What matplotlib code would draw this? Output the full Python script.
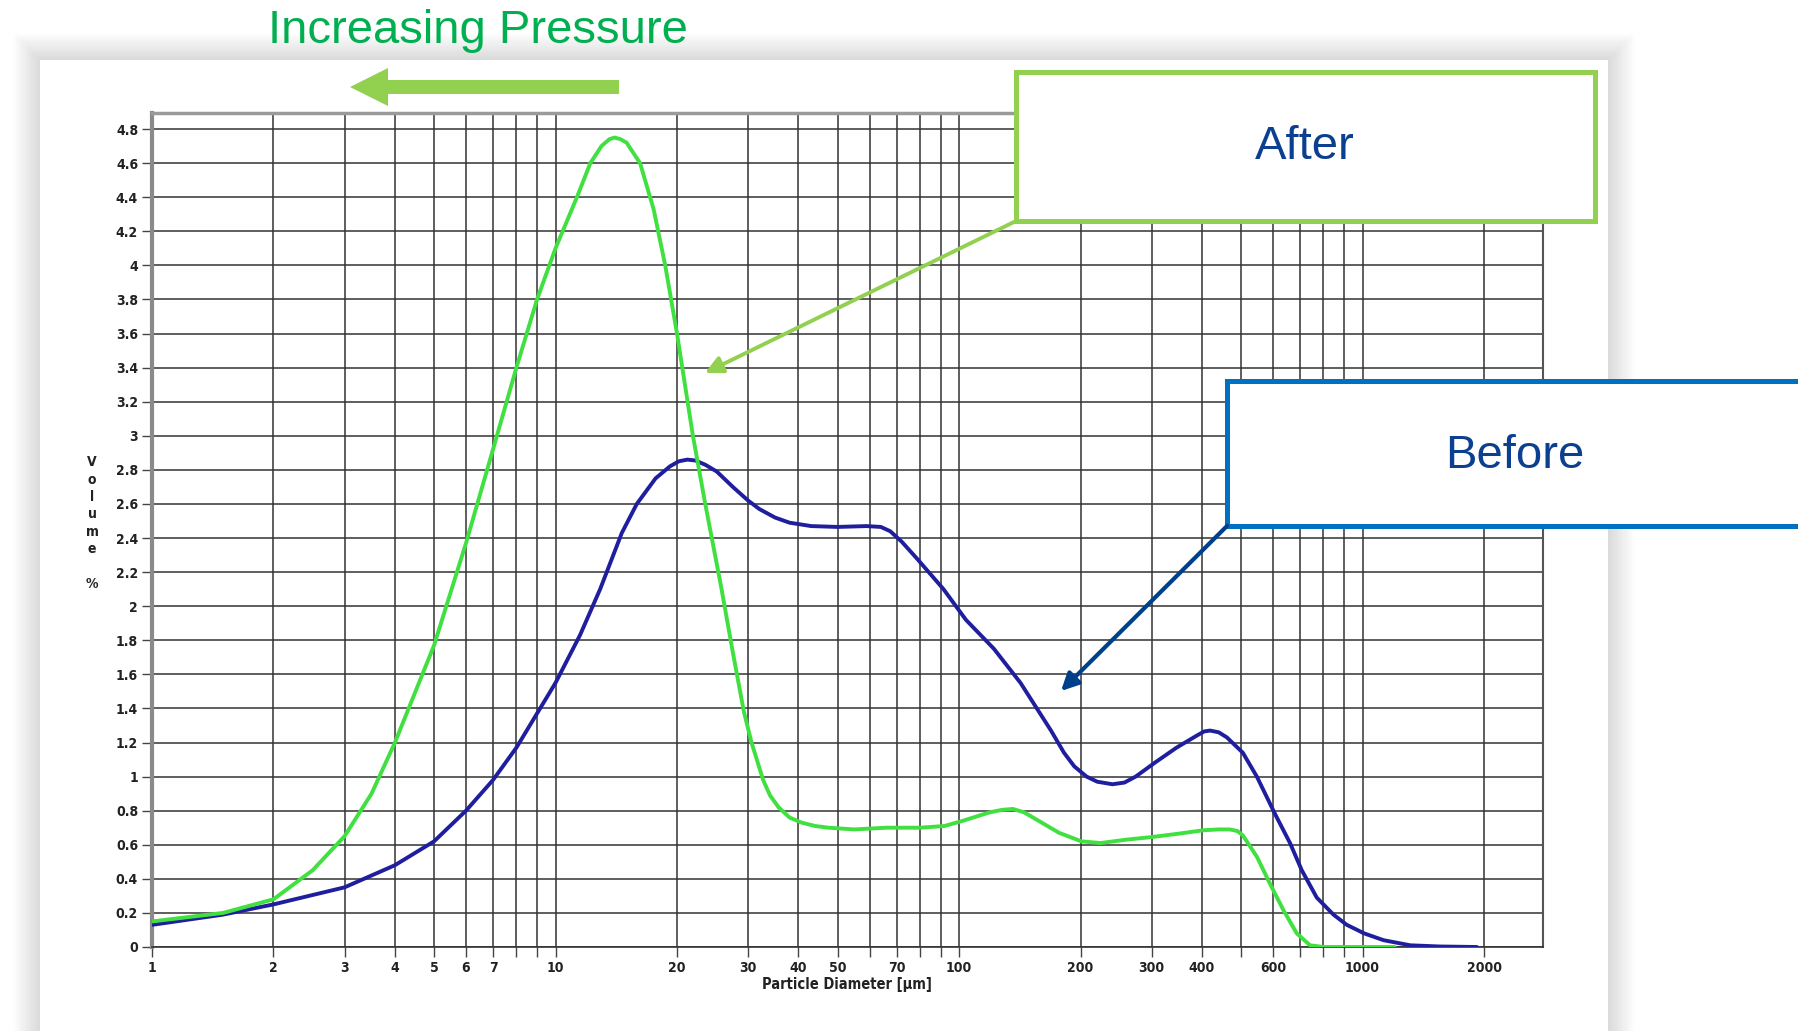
import numpy as np
import matplotlib
matplotlib.use('Agg')
import matplotlib.pyplot as plt
from matplotlib.patches import Rectangle, FancyArrow
from matplotlib.ticker import FixedLocator, FixedFormatter, NullLocator

# particle size distribution (diameter in um, volume %)
x_before = [1, 1.5, 2, 3, 4, 5, 6, 7, 8, 10, 11.5, 12.9, 14.6, 15.9, 17.7, 19.2, 20.2, 21.2, 22.2,
            23.5, 25.1, 27.5, 30, 32, 35, 38, 43, 50, 59, 64, 67.5, 72, 78.6, 91.5, 104, 122,
            142, 169, 182, 193, 207, 220, 240, 257, 274, 305, 346, 388, 405, 419, 440, 461, 505,
            547, 607, 661, 707, 770, 847, 914, 1009, 1127, 1312, 1550, 1920]
y_before = [0.13, 0.19, 0.25, 0.35, 0.48, 0.62, 0.8, 0.98, 1.17, 1.55, 1.83, 2.1, 2.43, 2.6, 2.75,
            2.82, 2.85, 2.86, 2.855, 2.83, 2.79, 2.7, 2.62, 2.57, 2.52, 2.49, 2.47, 2.465, 2.47,
            2.465, 2.44, 2.38, 2.28, 2.10, 1.92, 1.75, 1.55, 1.27, 1.14, 1.06, 1.0, 0.97, 0.955,
            0.965, 1.0, 1.08, 1.17, 1.24, 1.265, 1.27, 1.26, 1.23, 1.14, 1.0, 0.78, 0.61, 0.45,
            0.29, 0.19, 0.13, 0.08, 0.04, 0.01, 0.003, 0.0]

x_after = [1, 1.5, 2, 2.5, 3, 3.5, 4, 5, 6, 7, 8, 9, 10, 11.3, 12.2, 13, 13.6, 14, 14.5, 15,
           16.2, 17.5, 18.7, 20, 21.9, 23.5, 25.7, 27.5, 29.3, 30.6, 32.7, 34, 35.7, 38, 40.7,
           44, 47.5, 55, 66, 80, 92, 102, 119, 128, 136, 145, 155, 177, 201, 224, 260, 300, 350,
           403, 440, 469, 490, 505, 547, 590, 637, 687, 741, 800, 1000, 1200]
y_after = [0.15, 0.2, 0.28, 0.45, 0.65, 0.9, 1.2, 1.77, 2.37, 2.92, 3.4, 3.8, 4.1, 4.4, 4.6, 4.7,
           4.74, 4.75, 4.74, 4.72, 4.6, 4.33, 4.0, 3.6, 3.0, 2.6, 2.12, 1.73, 1.38, 1.2, 0.98,
           0.89, 0.82, 0.76, 0.73, 0.71, 0.70, 0.69, 0.70, 0.70, 0.71, 0.74, 0.79, 0.805, 0.81,
           0.79, 0.75, 0.67, 0.62, 0.61, 0.63, 0.645, 0.665, 0.685, 0.69, 0.69, 0.68, 0.655,
           0.53, 0.37, 0.215, 0.08, 0.01, 0.0, 0.0, 0.0]

grid_x = [1, 2, 3, 4, 5, 6, 7, 8, 9, 10, 20, 30, 40, 50, 60, 70, 80, 90, 100,
          200, 300, 400, 500, 600, 700, 800, 900, 1000, 2000]
labelled_x = [1, 2, 3, 4, 5, 6, 7, 10, 20, 30, 40, 50, 70, 100, 200, 300, 400, 600, 1000, 2000]
y_ticks = [0, 0.2, 0.4, 0.6, 0.8, 1, 1.2, 1.4, 1.6, 1.8, 2, 2.2, 2.4, 2.6, 2.8, 3, 3.2, 3.4,
           3.6, 3.8, 4, 4.2, 4.4, 4.6, 4.8]

W, H = 1798, 1031
narrow = ['DejaVu Sans']
arial = ['Liberation Sans', 'DejaVu Sans']

fig = plt.figure(figsize=(W / 100, H / 100), dpi=100)
fig.patch.set_facecolor('white')

# white slide panel with a soft shadow
bg = fig.add_axes([0, 0, 1, 1], zorder=0)
bg.set_xlim(0, W)
bg.set_ylim(H, 0)
bg.axis('off')
px0, py0, px1 = 40, 60, 1608
for k in range(12, 0, -1):
    d = k * 2.2
    bg.add_patch(Rectangle((px0 - d, py0 - d), (px1 - px0) + 2 * d, H, facecolor='#707070',
                           edgecolor='none', alpha=0.02))
bg.add_patch(Rectangle((px0, py0), px1 - px0, H, facecolor='white', edgecolor='none'))

# the chart itself
ax = fig.add_axes([152 / W, 1 - 947 / H, (1543 - 152) / W, (947 - 113) / H], zorder=1)
ax.set_xscale('log')
ax.plot(x_before, y_before, color='#1e1e9e', lw=2.8, solid_joinstyle='round',
        solid_capstyle='round', zorder=3)
ax.plot(x_after, y_after, color='#3fe03f', lw=2.8, solid_joinstyle='round',
        solid_capstyle='round', zorder=4)
ax.set_xlim(1, 2800)
ax.set_ylim(0, 4.894)

ax.xaxis.set_major_locator(FixedLocator(grid_x))
ax.xaxis.set_major_formatter(FixedFormatter([str(v) if v in labelled_x else '' for v in grid_x]))
ax.xaxis.set_minor_locator(NullLocator())
ax.set_yticks(y_ticks)
ax.set_yticklabels(['{:g}'.format(v) for v in y_ticks])
ax.grid(True, color='#333333', lw=1.1)
ax.tick_params(direction='out', length=7, width=1, color='#444444', pad=3)
for lab in ax.get_xticklabels() + ax.get_yticklabels():
    lab.set_family(narrow)
    lab.set_fontstretch('condensed')
    lab.set_fontweight('bold')
    lab.set_fontsize(10)
    lab.set_color('#222222')

ax.spines['left'].set_color('#8a8a8a')
ax.spines['left'].set_linewidth(3)
ax.spines['top'].set_color('#9a9a9a')
ax.spines['top'].set_linewidth(2.5)
ax.spines['right'].set_color('#555555')
ax.spines['right'].set_linewidth(1.5)
ax.spines['bottom'].set_color('#333333')
ax.spines['bottom'].set_linewidth(1.2)

# overlay in pixel coordinates for the slide annotations
ov = fig.add_axes([0, 0, 1, 1], zorder=3)
ov.set_xlim(0, W)
ov.set_ylim(H, 0)
ov.axis('off')
ov.patch.set_alpha(0)

ov.text(92, 523, 'V\no\nl\nu\nm\ne\n\n%', ha='center', va='center', family=narrow,
        fontstretch='condensed', fontweight='bold', fontsize=10, linespacing=1.3,
        color='#222222')
ov.text(847, 984, 'Particle Diameter [\u00b5m]', ha='center', va='center', family=narrow,
        fontstretch='condensed', fontweight='bold', fontsize=10.5, color='#222222')

ov.text(478, 43, 'Increasing Pressure', ha='center', va='baseline', family=arial,
        fontsize=34, color='#00b050')
ov.add_patch(FancyArrow(619, 87, -269, 0, width=14, head_width=38, head_length=38,
                        length_includes_head=True, color='#92d050', lw=0))

ov.annotate('', xy=(705, 373), xytext=(1016, 221),
            arrowprops=dict(arrowstyle='-|>', color='#92d050', lw=2.8, mutation_scale=26,
                            shrinkA=0, shrinkB=0))
ov.add_patch(Rectangle((1016, 72), 579, 149, facecolor='white', edgecolor='#92d050', lw=3.6))
ov.text(1305, 147, 'After', ha='center', va='center', family=arial, fontsize=34, color='#0b3f8f')

ov.annotate('', xy=(1061, 691), xytext=(1227, 526),
            arrowprops=dict(arrowstyle='-|>', color='#003f8c', lw=3, mutation_scale=26,
                            shrinkA=0, shrinkB=0))
ov.add_patch(Rectangle((1227, 381), 620, 145, facecolor='white', edgecolor='#0070c0', lw=3.6))
ov.text(1515, 456, 'Before', ha='center', va='center', family=arial, fontsize=34, color='#0b3f8f')

fig.savefig('out.png', dpi=100)
